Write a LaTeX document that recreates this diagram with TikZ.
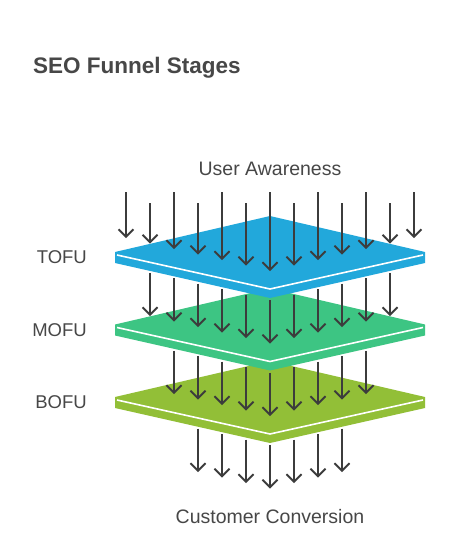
\documentclass[tikz,border=0pt]{standalone}
\usepackage{fontspec}
\setmainfont{Liberation Sans}
\usetikzlibrary{arrows.meta,positioning}

\definecolor{tofublue}{HTML}{22A8DB}
\definecolor{mofugreen}{HTML}{3DC583}
\definecolor{bofulime}{HTML}{92BF37}
\definecolor{arrowgray}{HTML}{3C3C3C}
\definecolor{textgray}{HTML}{474747}

\tikzset{
    flow/.style={draw=arrowgray, line width=1.8pt, -{Straight Barb[length=7.5pt,width=15pt]}},
    rim/.style={draw=white, line width=1.6pt},
    stage/.style={text=textgray, font=\fontsize{18.5}{20}\selectfont, inner sep=0pt},
    endlabel/.style={stage, font=\fontsize{19.5}{21}\selectfont, anchor=base},
}

% one layer of the funnel: name, centre y, colour
\newcommand{\funnelplate}[3]{%
    \fill[#3] (115,#2) -- (270,#2-36) -- (425,#2) -- (425,#2+11)
        -- (270,#2+46) -- (115,#2+11) -- cycle;
    \draw[rim] (117,#2+3) -- (270,#2+37) -- (423,#2+3);
    \coordinate (#1) at (115,#2+5.5);
}

\begin{document}
\begin{tikzpicture}[x=1pt,y=-1pt]
    \fill[white] (0,0) rectangle (450,536);
    \useasboundingbox (0,0) rectangle (450,536);

    \node[anchor=base west, inner sep=0pt, text=textgray, font=\fontsize{22.5}{24}\selectfont\bfseries] (title) at (33,73) {SEO Funnel Stages};
    \node[endlabel] (aware) at (270,175) {User Awareness};
    \node[endlabel] (convert) at (270,523) {Customer Conversion};

    % plates, lowest first
    \funnelplate{bofu}{397}{bofulime}
    \funnelplate{mofu}{324.5}{mofugreen}
    \funnelplate{tofu}{252}{tofublue}

    \node[stage, left=28pt of tofu, anchor=east] (tofulabel) {TOFU};
    \node[stage, left=28pt of mofu, anchor=east] (mofulabel) {MOFU};
    \node[stage, left=28pt of bofu, anchor=east] (bofulabel) {BOFU};

    % incoming traffic
    \foreach \i in {0,...,12} {
        \pgfmathsetmacro\x{126+24*\i}
        \pgfmathsetmacro\ye{271-0.229*abs(\x-270)}
        \pgfmathsetmacro\ys{ifthenelse(mod(\i,2)==0,192,203)}
        \draw[flow] (\x,\ys) -- (\x,\ye);
    }
    % traffic passing each stage
    \foreach \c/\n/\t in {252/11/343.5, 324.5/9/416, 397/7/488.5} {
        \foreach \i in {1,...,\n} {
            \pgfmathsetmacro\x{270+24*(\i-(\n+1)/2)}
            \pgfmathsetmacro\d{abs(\x-270)}
            \pgfmathsetmacro\ys{\c+13+35*(1-\d/155)}
            \pgfmathsetmacro\ye{\t-0.229*\d}
            \draw[flow] (\x,\ys) -- (\x,\ye);
        }
    }
\end{tikzpicture}
\end{document}
